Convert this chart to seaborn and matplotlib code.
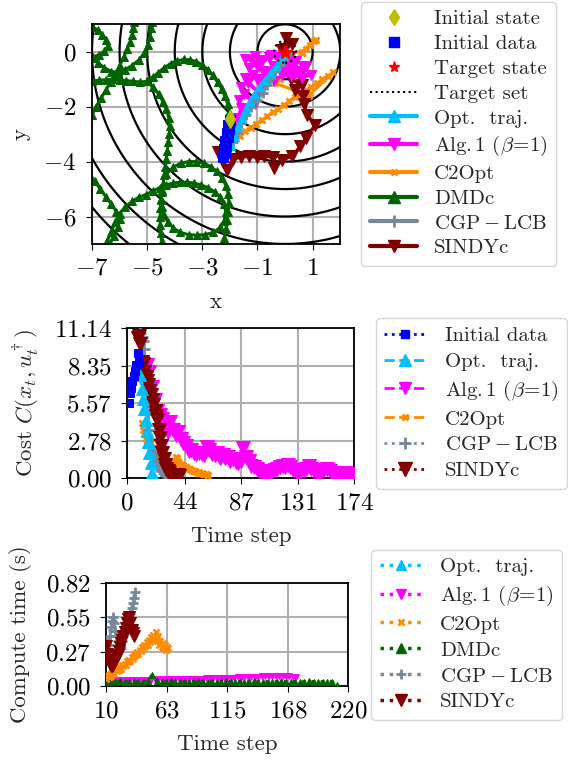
import numpy as np
import matplotlib
matplotlib.use('Agg')
import matplotlib.pyplot as plt
from matplotlib.lines import Line2D
from matplotlib.patches import Circle
import seaborn as sns

# ---------------- data: state trajectories (top panel) ----------------
contour_levels = [1, 2, 3, 4, 5, 6, 7, 8, 9]
init_state = (-2.0, -2.45)
target_state = (0.0, 0.0)
target_radius = 0.4

init_x = [-2.00, -2.08, -2.03, -2.12, -2.08, -2.17, -2.13, -2.22, -2.18, -2.26]
init_y = [-2.50, -2.65, -2.80, -2.95, -3.10, -3.25, -3.40, -3.55, -3.70, -3.82]

opt_x = [-1.95, -1.82, -1.70, -1.57, -1.43, -1.28, -1.10, -0.92, -0.72, -0.52, -0.32, -0.15, -0.05]
opt_y = [-3.45, -3.10, -2.75, -2.42, -2.12, -1.82, -1.53, -1.27, -1.02, -0.77, -0.52, -0.28, -0.12]

alg_x = [-1.85, -1.72, -1.60, -1.68, -1.50, -1.10, -1.60, -1.35, -0.95, -1.45,
         -1.15, -0.95, -1.30, -1.05, -0.80, -1.25, -1.45, -1.10, -0.85, -0.60,
         -0.95, -0.70, -0.45, -0.20, -0.50, -0.30, 0.00, 0.25, 0.45, 0.70,
         0.95, 0.60, 0.35, 0.10, -0.15, -0.40, -0.70, -1.00, -0.75, -0.40,
         -0.10, 0.20, 0.50, 0.75, 0.40, 0.10, -0.05]
alg_y = [-2.75, -2.40, -2.05, -1.75, -1.55, -1.90, -1.30, -1.15, -1.50, -0.95,
         -0.85, -1.10, -0.60, -0.45, -0.70, -0.30, -0.25, -0.15, -0.30, -0.20,
         -0.55, -0.75, -0.50, -0.35, -0.10, -0.20, -0.45, -0.55, -0.70, -0.60,
         -0.85, -0.95, -0.80, -0.65, -0.60, -0.75, -0.90, -1.00, -1.20, -1.05,
         -0.85, -0.90, -0.75, -0.50, -0.35, -0.30, -0.10]

c2_x = [-1.65, -1.45, -1.25, -1.05, -0.85, -0.65, -0.45, -0.25, -0.05, 0.15,
        0.35, 0.55, 0.75, 0.95, 1.15, 1.35, 1.55, 1.75, 0.85, -0.35,
        -0.20, 0.00, 0.15, 0.30, 0.45, 0.60, 0.75, 0.90, 1.05, 1.12, 0.60, 0.10]
c2_y = [-3.05, -2.90, -2.78, -2.62, -2.50, -2.35, -2.20, -2.08, -1.95, -1.80,
        -1.65, -1.55, -1.40, -1.28, -1.15, -1.00, -0.90, -0.75, -1.60, -1.15,
        -1.00, -0.80, -0.60, -0.40, -0.25, -0.05, 0.10, 0.25, 0.38, 0.42, 0.00, -0.05]

cgp_x = [-1.90, -1.75, -1.60, -1.42, -1.22, -1.00, -0.80, -0.65, -0.50, -0.35, -0.20, -0.08, 0.02, 0.08]
cgp_y = [-3.30, -2.95, -2.60, -2.30, -2.00, -1.75, -1.50, -1.20, -0.95, -0.70, -0.48, -0.30, -0.15, -0.05]

sindy_x = [-2.15, -2.45, -2.25, -2.10, -1.90, -1.60, -1.30, -1.00, -0.75, -0.45,
           -0.40, -0.10, 0.25, 0.55, 0.75, 1.10, 0.80, 0.70, 0.65, 0.35,
           0.60, 0.20, 0.50, 0.05, 0.15, -0.10, 0.05, 0.25, 0.00]
sindy_y = [-3.75, -3.65, -4.00, -4.30, -3.90, -3.85, -3.80, -3.85, -3.80, -3.85,
           -4.25, -3.95, -3.80, -3.45, -3.15, -2.65, -2.30, -1.90, -1.60, -1.40,
           -1.20, -1.00, -0.80, -0.60, -0.20, 0.05, 0.50, 0.30, 0.10]

# DMDc wanders off in loops; drawn as pieces that leave and re-enter the view
dmdc_a_x = [-2.00, -2.02, -2.08, -2.18, -2.30, -2.45, -2.62, -2.80, -3.00, -3.22, -3.45, -3.68, -3.92, -4.15,
            -4.38, -4.60, -4.80, -5.00, -5.25, -5.50, -5.75, -6.00, -6.25, -6.50, -6.75, -7.00, -7.20]
dmdc_a_y = [-2.45, -2.18, -1.90, -1.62, -1.35, -1.10, -0.86, -0.65, -0.48, -0.36, -0.29, -0.28, -0.33, -0.43,
            -0.58, -0.76, -0.93, -1.08, -1.10, -1.08, -1.05, -1.02, -1.00, -1.02, -1.04, -1.06, -1.06]
dmdc_b_x = [-5.48, -5.50, -5.55, -5.62, -5.72, -5.85, -6.00, -6.15, -6.32, -6.50, -6.68, -6.85, -7.00, -7.15]
dmdc_b_y = [1.10, 0.85, 0.60, 0.35, 0.10, -0.20, -0.50, -0.80, -1.10, -1.40, -1.70, -2.00, -2.30, -2.55]
dmdc_c_x = [-4.83, -4.85, -4.90, -4.98, -5.10, -5.30, -5.55, -5.80, -6.05, -6.30, -6.55, -6.80, -7.00, -7.20]
dmdc_c_y = [1.10, 0.85, 0.55, 0.25, -0.05, -0.30, -0.50, -0.65, -0.75, -0.72, -0.58, -0.40, -0.22, -0.05]
dmdc_d_x = [-7.20, -7.00, -6.80, -6.62, -6.48, -6.42, -6.55, -6.75, -6.95, -7.15]
dmdc_d_y = [1.00, 0.92, 0.80, 0.62, 0.42, 0.20, 0.02, -0.10, -0.20, -0.30]
dmdc_e_x = [-5.00, -4.78, -4.58, -4.42, -4.30, -4.22, -4.18, -4.20, -4.24, -4.27, -4.30,
            -4.34, -4.38, -4.42, -4.46, -4.50, -4.52, -4.53, -4.53, -4.51, -4.48, -4.45]
dmdc_e_y = [-1.08, -1.30, -1.55, -1.82, -2.10, -2.40, -2.70, -3.00, -3.30, -3.60, -3.90,
            -4.20, -4.50, -4.80, -5.10, -5.40, -5.70, -6.00, -6.30, -6.60, -6.90, -7.20]
dmdc_f_x = [-4.30, -4.05, -3.78, -3.50, -3.22, -2.95, -2.70, -2.47, -2.28, -2.14, -2.06, -2.04, -2.06,
            -2.10, -2.15, -2.20, -2.25]
dmdc_f_y = [-4.45, -4.20, -4.06, -4.00, -4.00, -4.06, -4.18, -4.36, -4.60, -4.88, -5.18, -5.50, -5.82,
            -6.14, -6.46, -6.78, -7.10]
dmdc_g_x = [-7.10, -6.90, -6.70, -6.50, -6.30, -6.12, -6.00, -6.05, -6.20, -6.35, -6.45]
dmdc_g_y = [-4.45, -4.72, -5.00, -5.28, -5.55, -5.82, -6.10, -6.40, -6.70, -7.00, -7.20]
dmdc_h_x = [-6.60, -6.45, -6.30, -6.15, -6.00, -5.80, -5.55, -5.30, -5.05, -4.80, -4.55, -4.30,
            -4.05, -3.80, -3.55, -3.30, -3.05, -2.80, -2.55, -2.35, -2.20, -2.15, -2.20, -2.35,
            -2.60, -2.90, -3.20, -3.50, -3.80, -4.05, -4.25, -4.40, -4.48, -4.50, -4.45]
dmdc_h_y = [-7.20, -6.90, -6.55, -6.20, -5.90, -5.65, -5.45, -5.30, -5.20, -5.08, -4.95, -4.85,
            -4.78, -4.75, -4.75, -4.78, -4.85, -4.95, -5.10, -5.30, -5.55, -5.85, -6.15, -6.40,
            -6.58, -6.66, -6.68, -6.66, -6.58, -6.42, -6.20, -5.95, -5.65, -5.35, -5.05]

# ---------------- data: cost per time step (middle panel) ----------------
cost_init = [5.6, 6.3, 6.7, 7.2, 7.6, 8.0, 8.4, 9.3, 8.6]
cost_opt = [7.67, 6.6, 5.9, 5.1, 4.3, 3.5, 2.7, 1.9, 1.1, 0.4]
cost_alg = [8.4, 7.9, 6.8, 5.8, 5.0, 4.7, 4.4, 4.1, 3.4, 4.2,
            3.6, 3.2, 3.4, 2.9, 2.6, 2.4, 2.0, 2.1, 1.9, 1.8,
            1.9, 1.8, 1.7, 2.3, 2.1, 1.8, 1.7, 1.9, 1.5, 1.7,
            1.5, 1.6, 1.3, 1.4, 1.2, 1.1, 1.3, 2.2, 1.6, 1.3,
            0.9, 0.8, 0.7, 0.5, 0.4, 0.35, 0.3, 0.4, 0.5, 0.6,
            0.7, 0.8, 0.9, 0.8, 1.0, 0.8, 0.6, 0.5, 0.4, 0.5,
            0.6, 0.7, 0.9, 0.7, 0.5, 0.4, 0.35, 0.5, 0.6, 0.7,
            0.5, 0.4, 0.3, 0.35, 0.4, 0.3, 0.35, 0.3, 0.25, 0.25]
cost_c2 = [4.1, 3.6, 3.3, 3.0, 2.8, 2.6, 2.5, 2.3, 2.2, 2.0,
           1.9, 1.8, 1.7, 1.6, 1.5, 1.45, 1.4, 1.35, 1.3, 1.2,
           1.25, 1.15, 1.1, 1.2, 1.1, 1.3, 1.6, 1.5, 1.3, 1.1,
           1.0, 0.9, 1.0, 0.85, 0.8, 0.75, 0.7, 0.65, 0.6, 0.55,
           0.5, 0.5, 0.45, 0.4, 0.45, 0.4, 0.35, 0.3, 0.3, 0.3,
           0.25, 0.25]
cost_cgp = [10.8, 10.5, 10.2, 9.6, 8.3, 6.5, 4.8, 3.6, 2.9, 2.4,
            2.0, 1.7, 1.4, 1.2, 1.0, 0.8, 0.6, 0.5, 0.4, 0.3,
            0.25, 0.2, 0.2]
cost_sindy = [10.4, 10.6, 10.0, 8.6, 8.5, 7.9, 7.5, 7.2, 6.9, 6.5,
              6.2, 5.8, 5.4, 5.0, 4.6, 4.3, 3.6, 3.0, 2.4, 1.9,
              1.4, 1.0, 0.7, 0.5, 0.35, 0.25, 0.2, 0.2, 0.15, 0.2,
              0.15, 0.2, 0.15]
cost_xticks = [0, 44, 87, 131, 174]
cost_yticks = [0, 2.78, 5.57, 8.35, 11.14]

# ---------------- data: compute time (bottom panel) ----------------
ct_opt = [0.004, 0.004, 0.004, 0.004, 0.004, 0.004, 0.004, 0.004, 0.004, 0.004]
ct_alg = [0.050, 0.050, 0.052, 0.050, 0.051, 0.050, 0.052, 0.051, 0.050, 0.052,
          0.051, 0.053, 0.052, 0.054, 0.053, 0.055, 0.054, 0.056, 0.055, 0.057,
          0.056, 0.058, 0.057, 0.059, 0.058, 0.060, 0.061, 0.060, 0.062, 0.063,
          0.062, 0.064, 0.065, 0.064, 0.066, 0.067, 0.068, 0.070, 0.069, 0.071,
          0.072, 0.074, 0.073, 0.076, 0.078, 0.080, 0.082, 0.081, 0.083, 0.080,
          0.082, 0.080, 0.078, 0.076, 0.074]
ct_c2 = [0.06, 0.09, 0.07, 0.10, 0.08, 0.11, 0.12, 0.10, 0.13, 0.12,
         0.14, 0.13, 0.15, 0.14, 0.17, 0.16, 0.18, 0.17, 0.20, 0.19,
         0.21, 0.20, 0.23, 0.22, 0.24, 0.26, 0.25, 0.27, 0.26, 0.29,
         0.28, 0.31, 0.30, 0.33, 0.32, 0.35, 0.33, 0.37, 0.35, 0.39,
         0.37, 0.41, 0.38, 0.43, 0.36, 0.40, 0.33, 0.36, 0.31, 0.34,
         0.30, 0.33, 0.29, 0.31, 0.30]
ct_dmdc = [0.035, 0.037, 0.036, 0.038, 0.036, 0.037, 0.035, 0.037, 0.036, 0.038,
           0.090, 0.045, 0.037, 0.036, 0.038, 0.036, 0.037, 0.035, 0.037, 0.036,
           0.038, 0.036, 0.037, 0.035, 0.037, 0.036, 0.038, 0.036, 0.037, 0.035,
           0.037, 0.036, 0.038, 0.036, 0.037, 0.035, 0.037, 0.036, 0.038, 0.036,
           0.037, 0.035, 0.037, 0.036, 0.038, 0.036, 0.037, 0.035, 0.036, 0.037,
           0.010]
ct_cgp = [0.35, 0.28, 0.33, 0.40, 0.47, 0.52, 0.55, 0.50, 0.44, 0.40,
          0.36, 0.32, 0.34, 0.30, 0.36, 0.40, 0.44, 0.42, 0.47, 0.52,
          0.56, 0.58, 0.62, 0.66, 0.70, 0.75]
ct_sindy = [0.32, 0.26, 0.21, 0.18, 0.16, 0.16, 0.17, 0.19, 0.21, 0.23,
            0.25, 0.28, 0.31, 0.34, 0.37, 0.40, 0.43, 0.46, 0.50, 0.53,
            0.55, 0.50, 0.45, 0.42, 0.40]
ct_xticks = [10, 63, 115, 168, 220]
ct_yticks = [0, 0.27, 0.55, 0.82]

# time indices
t_init = np.arange(1, 1 + len(cost_init))
t_opt = np.arange(10, 10 + len(cost_opt))
t_alg = np.arange(15, 15 + 2 * len(cost_alg), 2)
t_c2 = np.arange(11, 11 + len(cost_c2))
t_cgp = np.arange(10, 10 + len(cost_cgp))
t_sindy = np.arange(8, 8 + len(cost_sindy))

tc_opt = np.arange(10, 10 + len(ct_opt))
tc_alg = np.arange(13, 13 + 3 * len(ct_alg), 3)
tc_c2 = np.arange(10, 10 + len(ct_c2))
tc_dmdc = np.arange(10, 10 + 4 * len(ct_dmdc), 4)
tc_cgp = np.arange(10, 10 + len(ct_cgp))
tc_sindy = np.arange(10, 10 + len(ct_sindy))

# ---------------- style ----------------
sns.set_style('ticks', {'axes.grid': True})
plt.rcParams.update({
    'font.family': 'cmr10',
    'mathtext.fontset': 'cm',
    'axes.formatter.use_mathtext': True,
    'font.size': 15,
    'axes.labelsize': 16.5,
    'axes.labelpad': 9,
    'xtick.labelsize': 18,
    'ytick.labelsize': 18,
    'xtick.major.pad': 6,
    'ytick.major.pad': 7,
    'legend.fontsize': 15,
    'grid.color': '#b0b0b0',
    'grid.linewidth': 1.5,
    'axes.edgecolor': 'black',
    'axes.linewidth': 1.3,
    'xtick.color': 'black',
    'ytick.color': 'black',
    'xtick.major.size': 4,
    'ytick.major.size': 4,
    'legend.edgecolor': '0.8',
})

C_INIT = 'blue'
C_OPT = 'deepskyblue'
C_ALG = 'magenta'
C_C2 = 'darkorange'
C_DMDC = 'darkgreen'
C_CGP = 'lightslategray'
C_SINDY = 'maroon'

lab_opt = 'Opt.  traj.'
lab_alg = r'Alg.$\,$1 $(\beta\!=\!1)$'
lab_cgp = r'$\mathrm{CGP-LCB}$'


def draw(ax, x, y, color, **kw):
    sns.lineplot(x=x, y=y, ax=ax, sort=False, estimator=None, legend=False,
                 color=color, mec=color, mfc=color, **kw)


fig = plt.figure(figsize=(5.68, 7.6), dpi=100)

# ---------------- top: trajectories ----------------
ax1 = fig.add_axes([0.162, 0.679, 0.437, 0.289])
ax1.set_axisbelow(True)
gx = np.linspace(-7.5, 2.5, 400)
gy = np.linspace(-7.5, 1.5, 400)
GX, GY = np.meshgrid(gx, gy)
ax1.contour(GX, GY, np.hypot(GX, GY), levels=contour_levels, colors='k', linewidths=1.6, zorder=1)

for sx, sy in [(dmdc_a_x, dmdc_a_y), (dmdc_b_x, dmdc_b_y), (dmdc_c_x, dmdc_c_y), (dmdc_d_x, dmdc_d_y),
               (dmdc_e_x, dmdc_e_y), (dmdc_f_x, dmdc_f_y), (dmdc_g_x, dmdc_g_y), (dmdc_h_x, dmdc_h_y)]:
    draw(ax1, sx, sy, C_DMDC, lw=2.2, marker='^', ms=6, zorder=2)

draw(ax1, c2_x, c2_y, C_C2, lw=2.2, marker='x', ms=5, mew=2, zorder=3)
draw(ax1, sindy_x, sindy_y, C_SINDY, lw=2.2, marker='v', ms=9, zorder=3)
draw(ax1, alg_x, alg_y, C_ALG, lw=2.2, marker='v', ms=7, zorder=4)
draw(ax1, cgp_x, cgp_y, C_CGP, lw=2.2, marker='+', ms=7, mew=2, zorder=4)
draw(ax1, opt_x, opt_y, C_OPT, lw=3, marker='^', ms=6, zorder=5)
draw(ax1, init_x, init_y, C_INIT, lw=3, marker='s', ms=7, zorder=6)
ax1.add_patch(Circle(target_state, target_radius, fill=False, ls=':', lw=1.5, color='k', zorder=6))
ax1.plot(*init_state, ls='none', marker='d', color='y', ms=9, zorder=7)
ax1.plot(*target_state, ls='none', marker='*', color='red', ms=10, zorder=7)

ax1.set_xlim(-7, 2)
ax1.set_ylim(-7, 1)
ax1.set_xticks([-7, -5, -3, -1, 1])
ax1.set_yticks([-6, -4, -2, 0])
ax1.set_xlabel('x')
ax1.set_ylabel('y')
for s in ax1.spines.values():
    s.set_visible(True)

h1 = [
    Line2D([], [], ls='none', marker='d', color='y', ms=8),
    Line2D([], [], ls='none', marker='s', color=C_INIT, ms=7),
    Line2D([], [], ls='none', marker='*', color='red', ms=8),
    Line2D([], [], ls=':', color='k', lw=1.5),
    Line2D([], [], color=C_OPT, lw=3, marker='^', ms=8),
    Line2D([], [], color=C_ALG, lw=3, marker='v', ms=8),
    Line2D([], [], color=C_C2, lw=3, marker='x', ms=5, mew=2),
    Line2D([], [], color=C_DMDC, lw=3, marker='^', ms=8),
    Line2D([], [], color=C_CGP, lw=3, marker='+', ms=8, mew=2),
    Line2D([], [], color=C_SINDY, lw=3, marker='v', ms=9),
]
l1 = ['Initial state', 'Initial data', 'Target state', 'Target set', lab_opt, lab_alg, 'C2Opt', 'DMDc',
      lab_cgp, 'SINDYc']
fig.legend(h1, l1, loc='upper left', bbox_to_anchor=(0.636, 0.998), borderaxespad=0,
           handlelength=2.3, labelspacing=0.3, handletextpad=0.8)

# ---------------- middle: cost ----------------
ax2 = fig.add_axes([0.224, 0.371, 0.400, 0.197])
ax2.set_axisbelow(True)
draw(ax2, t_c2, cost_c2, C_C2, lw=2, ls='--', marker='x', ms=5, mew=2, zorder=3)
draw(ax2, t_alg, cost_alg, C_ALG, lw=2, ls='--', marker='v', ms=10, zorder=3)
draw(ax2, t_cgp, cost_cgp, C_CGP, lw=2, ls=':', marker='+', ms=8, mew=2, zorder=3)
draw(ax2, t_sindy, cost_sindy, C_SINDY, lw=2, ls=':', marker='v', ms=10, zorder=4)
draw(ax2, t_opt, cost_opt, C_OPT, lw=2, ls='--', marker='^', ms=8, zorder=5)
draw(ax2, t_init, cost_init, C_INIT, lw=2, ls=':', marker='s', ms=6, zorder=5)
ax2.set_xlim(0, 174)
ax2.set_ylim(0, 11.14)
ax2.set_xticks(cost_xticks)
ax2.set_yticks(cost_yticks)
ax2.set_xlabel('Time step')
ax2.set_ylabel(r'Cost $C(x_t, u_t^\dagger)$')
for s in ax2.spines.values():
    s.set_visible(True)

h2 = [
    Line2D([], [], color=C_INIT, lw=2, ls=':', marker='s', ms=6),
    Line2D([], [], color=C_OPT, lw=2, ls='--', marker='^', ms=8),
    Line2D([], [], color=C_ALG, lw=2, ls='--', marker='v', ms=8),
    Line2D([], [], color=C_C2, lw=2, ls='--', marker='x', ms=5, mew=2),
    Line2D([], [], color=C_CGP, lw=2, ls=':', marker='+', ms=8, mew=2),
    Line2D([], [], color=C_SINDY, lw=2, ls=':', marker='v', ms=10),
]
l2 = ['Initial data', lab_opt, lab_alg, 'C2Opt', lab_cgp, 'SINDYc']
fig.legend(h2, l2, loc='upper left', bbox_to_anchor=(0.662, 0.581), borderaxespad=0,
           handlelength=2.0, labelspacing=0.35, handletextpad=0.9)

# ---------------- bottom: compute time ----------------
ax3 = fig.add_axes([0.187, 0.097, 0.426, 0.136])
ax3.set_axisbelow(True)
draw(ax3, tc_opt, ct_opt, C_OPT, lw=2.5, ls=':', marker='^', ms=5, zorder=2)
draw(ax3, tc_alg, ct_alg, C_ALG, lw=2.5, ls=':', marker='v', ms=5, zorder=3)
draw(ax3, tc_dmdc, ct_dmdc, C_DMDC, lw=2.5, ls=':', marker='^', ms=5, zorder=3)
draw(ax3, tc_c2, ct_c2, C_C2, lw=2.5, ls=':', marker='x', ms=4, mew=1.8, zorder=4)
draw(ax3, tc_cgp, ct_cgp, C_CGP, lw=2.5, ls=':', marker='+', ms=7, mew=2, zorder=4)
draw(ax3, tc_sindy, ct_sindy, C_SINDY, lw=2.5, ls=':', marker='v', ms=9, zorder=5)
ax3.set_xlim(10, 220)
ax3.set_ylim(0, 0.82)
ax3.set_xticks(ct_xticks)
ax3.set_yticks(ct_yticks)
ax3.set_xlabel('Time step')
ax3.set_ylabel('Compute time (s)')
for s in ax3.spines.values():
    s.set_visible(True)

h3 = [
    Line2D([], [], color=C_OPT, lw=2.5, ls=':', marker='^', ms=7),
    Line2D([], [], color=C_ALG, lw=2.5, ls=':', marker='v', ms=7),
    Line2D([], [], color=C_C2, lw=2.5, ls=':', marker='x', ms=5, mew=2),
    Line2D([], [], color=C_DMDC, lw=2.5, ls=':', marker='^', ms=7),
    Line2D([], [], color=C_CGP, lw=2.5, ls=':', marker='+', ms=7, mew=2),
    Line2D([], [], color=C_SINDY, lw=2.5, ls=':', marker='v', ms=8),
]
l3 = [lab_opt, lab_alg, 'C2Opt', 'DMDc', lab_cgp, 'SINDYc']
fig.legend(h3, l3, loc='lower left', bbox_to_anchor=(0.654, 0.053), borderaxespad=0,
           handlelength=2.0, labelspacing=0.35, handletextpad=0.9)

fig.savefig('out.png', dpi=100)
